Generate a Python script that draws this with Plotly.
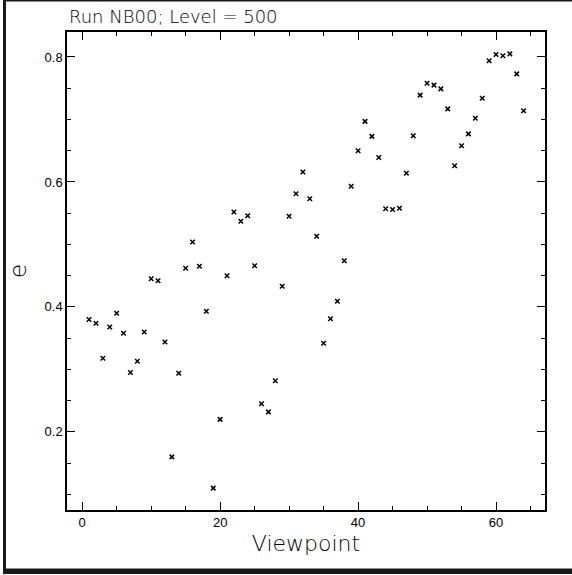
import plotly.graph_objects as go

viewpoints = list(range(1, 65))
ecc = [0.380, 0.374, 0.318, 0.368, 0.390, 0.358, 0.295, 0.313, 0.360, 0.445,
       0.442, 0.344, 0.160, 0.294, 0.462, 0.504, 0.465, 0.393, 0.110, 0.220,
       0.450, 0.552, 0.537, 0.546, 0.466, 0.245, 0.232, 0.282, 0.433, 0.545,
       0.581, 0.616, 0.573, 0.513, 0.342, 0.381, 0.409, 0.474, 0.593, 0.650,
       0.697, 0.673, 0.639, 0.557, 0.556, 0.558, 0.614, 0.674, 0.739, 0.758,
       0.755, 0.749, 0.717, 0.626, 0.658, 0.677, 0.702, 0.734, 0.794, 0.804,
       0.802, 0.805, 0.773, 0.714]

title_text = "Run NB00; Level = 500"
x_title = "Viewpoint"
y_title = "e"

W, H = 572, 575
L, R, T, B = 67, 27, 32, 65
pw, ph = W - L - R, H - T - B

def px_x(p):
    return (p - L) / pw

def px_y(p):
    return (H - B - p) / ph

LIGHT = "DejaVu Sans, Roboto, sans-serif"

fig = go.Figure()
fig.add_trace(go.Scatter(
    x=viewpoints, y=ecc, mode="markers",
    marker=dict(symbol="x-thin-open", size=4.5, color="black",
                line=dict(color="black", width=1.5)),
    showlegend=False,
))

axis_common = dict(
    showline=True, linecolor="black", linewidth=1.5, mirror="allticks",
    ticks="inside", ticklen=8, tickwidth=1, tickcolor="black",
    showgrid=False, zeroline=False,
    tickfont=dict(family="Liberation Sans, Arial, sans-serif", size=13, color="black"),
)

fig.update_xaxes(
    range=[-2.2, 67.1], dtick=20, tick0=0,
    minor=dict(dtick=5, ticks="inside", ticklen=4, tickcolor="black", tickwidth=1),
    title=dict(text=x_title, standoff=6,
               font=dict(family=LIGHT, size=22, color="black", weight=200)),
    **axis_common,
)
fig.update_yaxes(
    range=[0.075, 0.84], dtick=0.2, tick0=0,
    minor=dict(dtick=0.05, ticks="inside", ticklen=4, tickcolor="black", tickwidth=1),
    title=dict(text=y_title, standoff=12,
               font=dict(family=LIGHT, size=23, color="black", weight=200)),
    **axis_common,
)

shapes = [
    dict(type="rect", xref="paper", yref="paper",
         x0=px_x(3), x1=px_x(6), y0=px_y(574), y1=px_y(0),
         fillcolor="#1a1a1a", line=dict(width=0)),
    dict(type="rect", xref="paper", yref="paper",
         x0=px_x(3), x1=px_x(575), y0=px_y(1.5), y1=px_y(0),
         fillcolor="#1a1a1a", line=dict(width=0)),
    dict(type="rect", xref="paper", yref="paper",
         x0=px_x(3), x1=px_x(575), y0=px_y(574), y1=px_y(568.5),
         fillcolor="#1a1a1a", line=dict(width=0)),
]

fig.update_layout(
    width=W, height=H,
    margin=dict(l=L, r=R, t=T, b=B, pad=0),
    paper_bgcolor="white", plot_bgcolor="white",
    shapes=shapes,
    annotations=[dict(
        text=title_text, xref="paper", yref="paper",
        x=px_x(67), y=px_y(17), xanchor="left", yanchor="middle",
        showarrow=False,
        font=dict(family=LIGHT, size=18, color="black", weight=200),
    )],
)

fig.write_html("out.html")
